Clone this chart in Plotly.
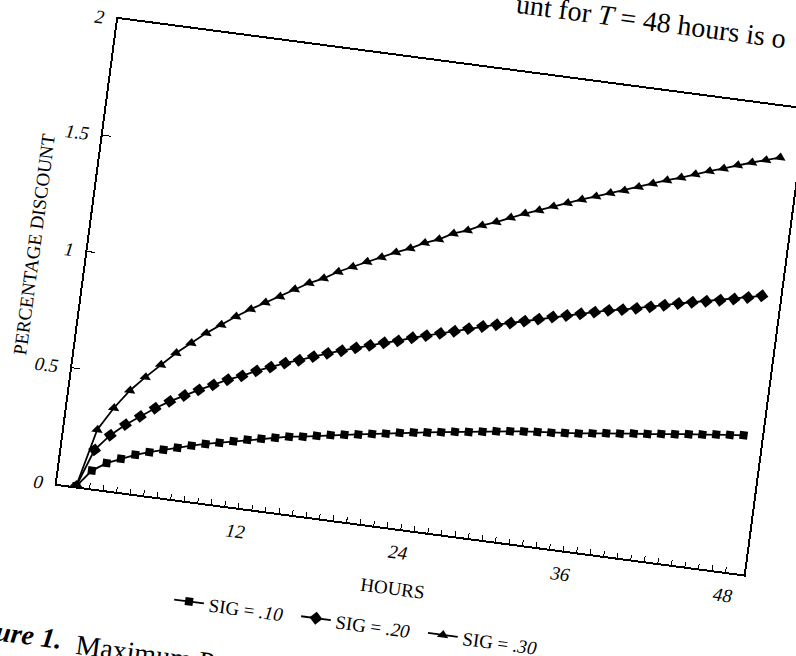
import plotly.graph_objects as go

# ---------------- data ----------------
hours = list(range(0, 49))

sig_10 = [0, 0.076, 0.116, 0.142, 0.167, 0.186, 0.204, 0.220, 0.237, 0.252,
          0.265, 0.279, 0.293, 0.305, 0.317, 0.329, 0.337, 0.348, 0.359, 0.368,
          0.377, 0.387, 0.396, 0.407, 0.416, 0.424, 0.433, 0.442, 0.449, 0.458,
          0.467, 0.475, 0.482, 0.487, 0.492, 0.498, 0.504, 0.512, 0.520, 0.526,
          0.534, 0.540, 0.548, 0.554, 0.562, 0.568, 0.576, 0.582, 0.588]

sig_20 = [0, 0.165, 0.236, 0.289, 0.332, 0.375, 0.412, 0.445, 0.477, 0.506,
          0.536, 0.560, 0.589, 0.613, 0.638, 0.658, 0.681, 0.703, 0.722, 0.742,
          0.760, 0.779, 0.795, 0.816, 0.833, 0.850, 0.867, 0.886, 0.903, 0.918,
          0.933, 0.949, 0.965, 0.982, 0.996, 1.011, 1.026, 1.041, 1.052, 1.065,
          1.079, 1.094, 1.109, 1.122, 1.134, 1.146, 1.159, 1.173, 1.188]

sig_30 = [0, 0.252, 0.353, 0.436, 0.501, 0.562, 0.620, 0.671, 0.721, 0.765,
          0.808, 0.847, 0.883, 0.917, 0.956, 0.990, 1.018, 1.054, 1.083, 1.112,
          1.139, 1.168, 1.193, 1.224, 1.247, 1.280, 1.301, 1.330, 1.352, 1.379,
          1.404, 1.426, 1.450, 1.472, 1.495, 1.516, 1.538, 1.557, 1.580, 1.602,
          1.624, 1.643, 1.665, 1.686, 1.705, 1.727, 1.746, 1.764, 1.783]

series_names = ["SIG = <i>.10</i>", "SIG = <i>.20</i>", "SIG = <i>.30</i>"]
x_tick_labels = [str(h) if (h > 0 and h % 12 == 0) else "" for h in hours]
y_tick_values = [0, 0.5, 1, 1.5, 2]
y_tick_labels = ["0", "0.5", "1", "1.5", "2"]

x_title = "HOURS"
y_title = "PERCENTAGE DISCOUNT"
page_text_top = "unt for <i>T</i> = 48 hours is o"
page_caption_label = "<b><i>Figure 1.</i></b>"
page_caption_text = "Maximum P"

# ---------------- figure ----------------
SERIF = "Liberation Serif, Times New Roman, serif"
symbols = ["square", "diamond", "triangle-up"]
sizes = [8, 10, 10]

fig = go.Figure()
for name, ys, sym, sz in zip(series_names, [sig_10, sig_20, sig_30], symbols, sizes):
    fig.add_trace(go.Scatter(
        x=hours, y=ys, name=name, mode="lines+markers",
        line=dict(color="black", width=1.8),
        marker=dict(symbol=sym, size=sz, color="black"),
    ))

PLOT_W, PLOT_H = 693, 469
L, T, R, B = 100, 80, 60, 190

fig.update_layout(
    template="none",
    width=L + PLOT_W + R, height=T + PLOT_H + B,
    margin=dict(l=L, r=R, t=T, b=B, autoexpand=False),
    paper_bgcolor="white", plot_bgcolor="white",
    font=dict(family=SERIF, color="black", size=19),
    showlegend=True,
    legend=dict(orientation="h", x=0.1825, xanchor="left", y=-0.212, yanchor="middle",
                font=dict(family=SERIF, size=19, color="black"),
                entrywidth=83, entrywidthmode="pixels",
                bgcolor="rgba(0,0,0,0)"),
    xaxis=dict(
        range=[-1.42, 49.35], tickmode="array", tickvals=hours, ticktext=x_tick_labels,
        ticks="inside", ticklen=5, tickwidth=1, tickcolor="black",
        showline=True, linecolor="black", linewidth=2, mirror=True,
        showgrid=False, zeroline=False, automargin=False,
        tickfont=dict(family=SERIF, size=19, color="black", style="italic"),
        ticklabelstandoff=5,
        title=dict(text=x_title, font=dict(family=SERIF, size=19, color="black"), standoff=20),
    ),
    yaxis=dict(
        range=[0, 2], tickmode="array", tickvals=y_tick_values, ticktext=y_tick_labels,
        ticks="inside", ticklen=8, tickwidth=1.2, tickcolor="black",
        showline=True, linecolor="black", linewidth=2, mirror=True,
        showgrid=False, zeroline=False, automargin=False,
        tickfont=dict(family=SERIF, size=19, color="black", style="italic"),
        ticklabelstandoff=8,
        title=dict(text=y_title, font=dict(family=SERIF, size=19, color="black"), standoff=4),
    ),
    annotations=[
        dict(text=page_text_top, xref="paper", yref="paper", x=0.564, y=1.143,
             xanchor="left", yanchor="middle", showarrow=False,
             font=dict(family=SERIF, size=28, color="black")),
        dict(text=page_caption_label, xref="paper", yref="paper", x=0.0394, y=-0.328,
             xanchor="right", yanchor="middle", showarrow=False,
             font=dict(family=SERIF, size=28, color="black")),
        dict(text=page_caption_text, xref="paper", yref="paper", x=0.055, y=-0.3337,
             xanchor="left", yanchor="middle", showarrow=False,
             font=dict(family=SERIF, size=28, color="black")),
    ],
)

post = """
var gd = document.getElementById('{plot_id}');
document.documentElement.style.overflow = 'hidden';
document.body.style.margin = '0';
document.body.style.overflow = 'hidden';
gd.style.transformOrigin = '0 0';
gd.style.transform = 'translate(29.3px,-73.4px) rotate(7.5deg)';
"""

fig.write_html("out.html", post_script=post, config={"displayModeBar": False})
